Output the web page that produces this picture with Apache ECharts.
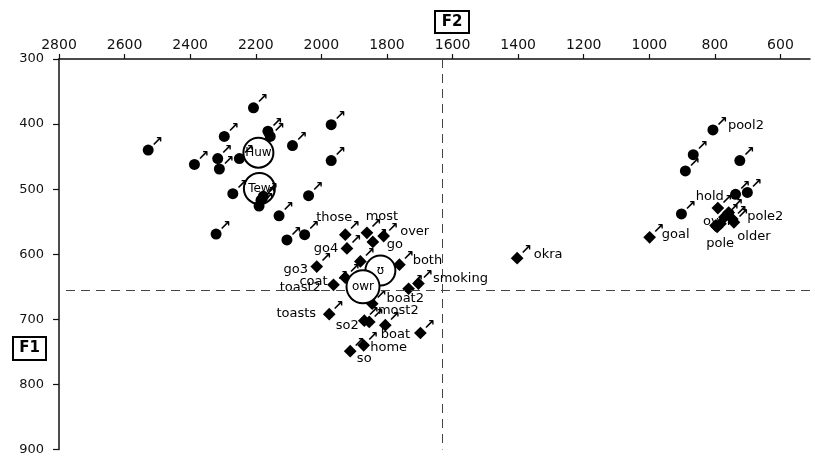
<!DOCTYPE html>
<html>
<head>
<meta charset="utf-8">
<script src="https://cdn.jsdelivr.net/npm/echarts@6/dist/echarts.min.js"></script>
<style>
html,body{margin:0;padding:0;background:#fff;}
#chart{width:815px;height:456px;}
</style>
</head>
<body>
<div id="chart"></div>
<script>
// ---- Axis ticks ----
const xTicks = [2800, 2600, 2400, 2200, 2000, 1800, 1600, 1400, 1200, 1000, 800, 600];
const yTicks = [300, 400, 500, 600, 700, 800, 900];

// ---- Filled circle tokens (F2, F1, word) ----
const circleF2 = [2207, 1970, 2296, 2163, 2156, 2528, 2088, 2387, 2316, 2311, 2250, 1970, 2270, 2039, 2190, 2177, 2184, 2129, 2321, 2105, 2051,
                  806, 866, 890, 724, 737, 701, 902];
const circleF1 = [375, 401, 419, 411, 419, 440, 433, 462, 453, 469, 453, 456, 507, 510, 526, 511, 517, 541, 569, 578, 570,
                  409, 447, 472, 456, 508, 505, 538];
const circleWord = ['', '', '', '', '', '', '', '', '', '', '', '', '', '', '', '', '', '', '', '', '',
                    'pool2', '', '', '', '', '', ''];

// ---- Filled diamond tokens (F2, F1, word) ----
const diamondF2 = [1927, 1922, 1861, 1843, 1810, 1881, 2014, 1927, 1963, 1836, 1762, 1704, 1734, 1976, 1869, 1854, 1805, 1698, 1871, 1912, 1845,
                   1403,
                   791, 758, 747, 793, 783, 742, 798, 771, 999];
const diamondF1 = [570, 591, 567, 581, 572, 611, 619, 636, 647, 636, 616, 645, 653, 692, 702, 704, 709, 721, 740, 749, 676,
                   606,
                   529, 536, 546, 558, 553, 551, 556, 543, 574];
const diamondWord = ['those', 'go4', 'most', 'go', 'over', '', 'go3', 'toast2', 'coat', '', 'both', 'smoking', '', 'toasts', '', 'so2', 'most2', 'boat', 'home', 'so', 'boat2',
                     'okra',
                     'hold', '', 'pole2', 'pole', '', 'older', 'over', '', 'goal'];

// ---- Mean circles ----
const meanName = ['ʊ', 'owr', 'Huw', 'Tew'];
const meanF2 = [1820, 1873, 2192, 2189];
const meanF1 = [625, 650, 444, 499];

// ---- Reference lines ----
const refF2 = 1632;
const refF1 = 655;

// ---- Styles (label offsets, sizes, fills) kept separate ----
const circleWordOffset = {21: [33, -4]};
const diamondWordOffset = {
  0: [-11, -17], 1: [-21, 0], 2: [15, -16], 3: [22, 3], 4: [31, -4], 6: [-21, 3], 7: [-45, 10], 8: [-20, -3],
  10: [28, -4], 11: [42, -5], 13: [-33, -1], 15: [-22, 4], 16: [13, -15], 17: [-25, 2], 18: [25, 2], 19: [14, 7], 20: [33, -5],
  21: [31, -4],
  22: [-8, -11], 24: [33, -2], 25: [3, 17], 27: [20, 14], 28: [2, -4], 30: [26, -3]
};
const meanSize = [30, 33, 30, 31];
const meanFill = ['#fff', '#fff', 'rgba(255,255,255,0)', 'rgba(255,255,255,0)'];

const FONT = 'DejaVu Sans';

function pts(f2, f1) { return f2.map((v, i) => [v, f1[i]]); }

const wordData = [];
const wordOffsets = [];
circleWord.forEach((w, i) => {
  if (w) { wordData.push({value: [circleF2[i], circleF1[i]], name: w}); wordOffsets.push(circleWordOffset[i] || [20, 0]); }
});
diamondWord.forEach((w, i) => {
  if (w) { wordData.push({value: [diamondF2[i], diamondF1[i]], name: w}); wordOffsets.push(diamondWordOffset[i] || [20, 0]); }
});

const arrowLabel = {
  show: true, formatter: '↗', position: 'inside', offset: [9, -8],
  fontSize: 14, fontWeight: 'bold', color: '#000', fontFamily: FONT
};

const chart = echarts.init(document.getElementById('chart'), null, {renderer: 'canvas'});
chart.setOption({
  animation: false,
  backgroundColor: '#fff',
  grid: {left: 59, right: 5, top: 59, bottom: 4},
  xAxis: {
    type: 'value', position: 'top', inverse: true, min: 510, max: 2800,
    axisLine: {onZero: false, lineStyle: {color: '#111', width: 1.5}},
    axisTick: {show: true, customValues: xTicks, length: 5, lineStyle: {color: '#111', width: 1.2}},
    axisLabel: {customValues: xTicks, formatter: v => String(v), margin: 7, fontSize: 14, color: '#111', fontFamily: FONT},
    splitLine: {show: false}
  },
  yAxis: {
    type: 'value', inverse: true, min: 300, max: 900, interval: 100,
    axisLine: {onZero: false, lineStyle: {color: '#111', width: 1.5}},
    axisTick: {show: true, customValues: yTicks, length: 6, lineStyle: {color: '#111', width: 1.2}},
    axisLabel: {customValues: yTicks, formatter: v => String(v), margin: 15, fontSize: 13, color: '#111', fontFamily: FONT},
    splitLine: {show: false}
  },
  graphic: [
    {type: 'group', left: 434, top: 10, children: [
      {type: 'rect', shape: {x: 0, y: 0, width: 34, height: 22}, style: {fill: '#fff', stroke: '#000', lineWidth: 2}},
      {type: 'text', x: 17, y: 11, style: {text: 'F2', font: 'bold 15px DejaVu Sans', fill: '#000',
        textAlign: 'center', textVerticalAlign: 'middle', align: 'center', verticalAlign: 'middle'}}
    ]},
    {type: 'group', left: 12, top: 336, children: [
      {type: 'rect', shape: {x: 0, y: 0, width: 33, height: 23}, style: {fill: '#fff', stroke: '#000', lineWidth: 2}},
      {type: 'text', x: 16.5, y: 11.5, style: {text: 'F1', font: 'bold 15px DejaVu Sans', fill: '#000',
        textAlign: 'center', textVerticalAlign: 'middle', align: 'center', verticalAlign: 'middle'}}
    ]}
  ],
  series: [
    {
      type: 'scatter', name: 'ref', data: [], z: 1, silent: true,
      markLine: {
        silent: true, symbol: 'none', animation: false,
        label: {show: false},
        lineStyle: {color: '#444', type: [9, 6], width: 1},
        data: [{xAxis: refF2}, {yAxis: refF1}]
      }
    },
    {
      type: 'scatter', name: 'words', z: 2, symbolSize: 1,
      itemStyle: {color: 'rgba(0,0,0,0)', opacity: 1},
      data: wordData,
      label: {show: true, formatter: p => p.name, position: 'inside', fontSize: 13, color: '#000', fontFamily: FONT},
      labelLayout: p => ({dx: wordOffsets[p.dataIndex][0], dy: wordOffsets[p.dataIndex][1], hideOverlap: false})
    },
    {
      type: 'scatter', name: 'circles', z: 3, symbol: 'circle', symbolSize: 11,
      itemStyle: {color: '#000', opacity: 1},
      data: pts(circleF2, circleF1),
      label: arrowLabel
    },
    {
      type: 'scatter', name: 'diamonds', z: 3, symbol: 'rect', symbolSize: 9, symbolRotate: 45,
      itemStyle: {color: '#000', opacity: 1},
      data: pts(diamondF2, diamondF1),
      label: arrowLabel
    },
    {
      type: 'scatter', name: 'means', z: 5, symbol: 'circle',
      symbolSize: (v, p) => meanSize[p.dataIndex],
      itemStyle: {opacity: 1, borderColor: '#000', borderWidth: 2},
      data: meanName.map((n, i) => ({value: [meanF2[i], meanF1[i]], name: n, itemStyle: {color: meanFill[i]}})),
      label: {show: true, formatter: p => p.name, position: 'inside', fontSize: 12, color: '#000', fontFamily: FONT}
    }
  ]
});
</script>
</body>
</html>
